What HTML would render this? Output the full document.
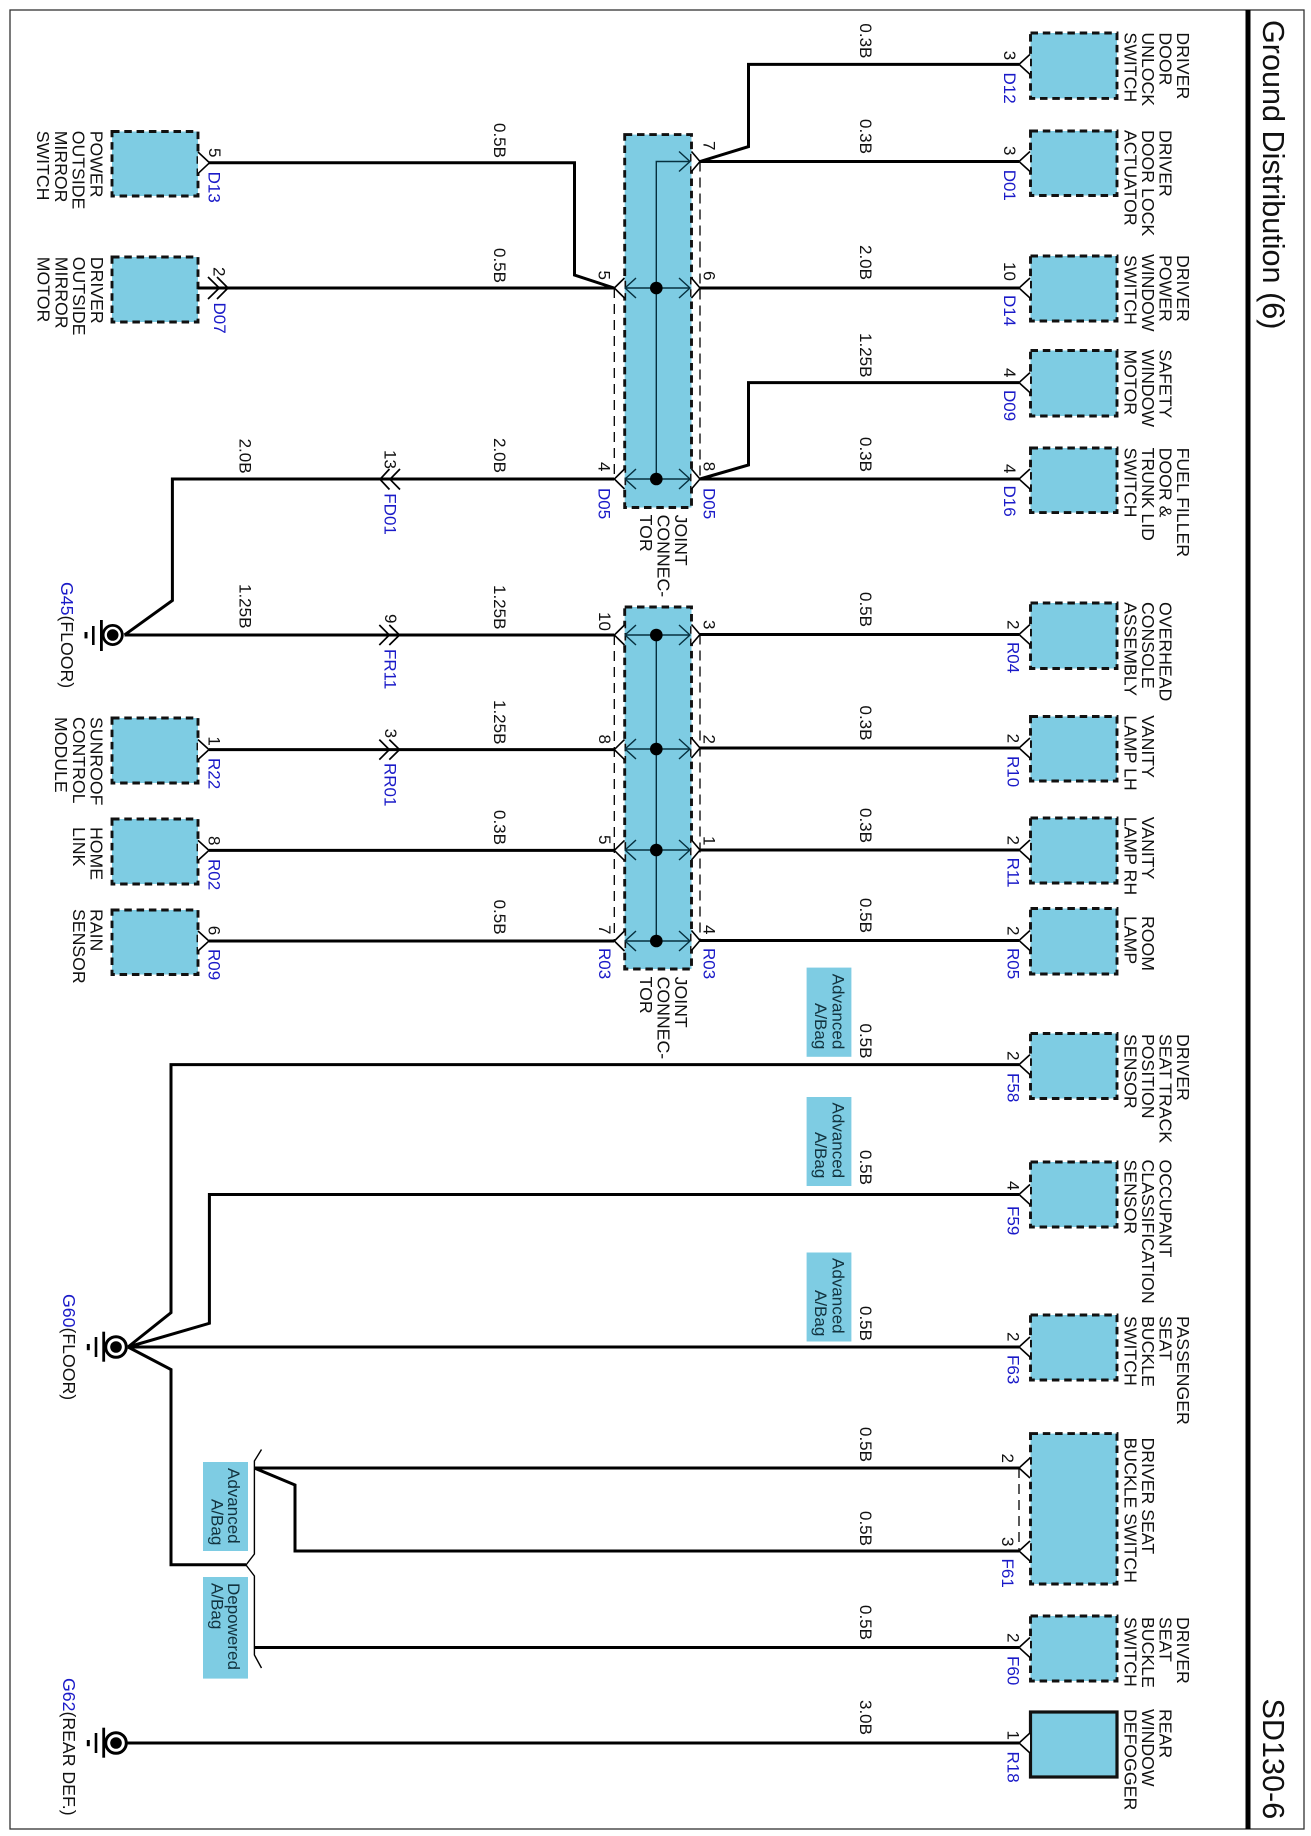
<!DOCTYPE html>
<html><head><meta charset="utf-8"><title>Ground Distribution (6)</title>
<style>
html,body{margin:0;padding:0;background:#fff}
svg{display:block}
text{font-family:"Liberation Sans",sans-serif;font-size:17.7px;fill:#111}
.w{font-size:17px}
.p{font-size:17px}
.b{font-size:17px;fill:#1a1ac8}
.g{fill:#1a1ac8}
.a{font-size:17px;fill:#12333f}
.h{font-size:30.6px}
.bx{fill:#7ecce3;stroke:#111;stroke-width:2.9;stroke-dasharray:7.5 4.8}
.tag{fill:#7ecce3}
.wr{fill:none;stroke:#000;stroke-width:3;stroke-linejoin:miter}
.ch{fill:#fff;stroke:#000;stroke-width:1.6}
.cn{fill:none;stroke:#000;stroke-width:1.7}
.in{fill:none;stroke:#06303f;stroke-width:1.4}
.ds{fill:none;stroke:#000;stroke-width:1.3;stroke-dasharray:10 6}
</style></head><body>
<svg width="1311" height="1836" viewBox="0 0 1311 1836" xmlns="http://www.w3.org/2000/svg">
<rect x="0" y="0" width="1311" height="1836" fill="#fff"/>
<rect x="10" y="10" width="1294" height="1819" fill="none" stroke="#333" stroke-width="1.3"/>
<rect x="1245.5" y="10" width="5" height="1819" fill="#000"/>

<!-- tags -->
<rect class="tag" x="806.6" y="967.6" width="44.8" height="89.2"/>
<rect class="tag" x="806.6" y="1097" width="44.8" height="89"/>
<rect class="tag" x="806.6" y="1252.5" width="44.8" height="89"/>
<rect class="tag" x="203" y="1462" width="45" height="89"/>
<rect class="tag" x="203" y="1577" width="45" height="101.6"/>

<!-- dashed inter-pin lines -->
<path class="ds" d="M614.3 288V479M700 161.5V479M614.3 635V941M700 634.5V940.5M1019 1468V1551"/>

<!-- joint connectors -->
<rect class="bx" x="624.7" y="134.6" width="66.8" height="372.9"/>
<rect class="bx" x="624.7" y="607" width="66.8" height="362"/>
<path class="in" d="M690 161.5H656.3V479M624 288H690M624 479H690M656.3 635V941M624 635H690M624 749H690M624 850H690M624 941H690"/>
<path class="in" d="M679 151.5L690 161.5L679 171.5M679 278L690 288L679 298M679 469L690 479L679 489M636 278L625 288L636 298M636 469L625 479L636 489M679 625L690 635L679 645M679 739L690 749L679 759M679 840L690 850L679 860M679 931L690 941L679 951M636 625L625 635L636 645M636 739L625 749L636 759M636 840L625 850L636 860M636 931L625 941L636 951"/>
<g fill="#000"><circle cx="656.3" cy="288" r="6.3"/><circle cx="656.3" cy="479" r="6.3"/><circle cx="656.3" cy="635" r="6.3"/><circle cx="656.3" cy="749" r="6.3"/><circle cx="656.3" cy="850" r="6.3"/><circle cx="656.3" cy="941" r="6.3"/></g>

<!-- boxes right -->
<rect class="bx" x="1030.5" y="33" width="86.5" height="65.4"/>
<rect class="bx" x="1030.5" y="131" width="86.5" height="64.5"/>
<rect class="bx" x="1030.5" y="256" width="86.5" height="65"/>
<rect class="bx" x="1030.5" y="350.5" width="86.5" height="65.5"/>
<rect class="bx" x="1030.5" y="448" width="86.5" height="64.6"/>
<rect class="bx" x="1030.5" y="603" width="86.5" height="65.5"/>
<rect class="bx" x="1030.5" y="716.5" width="86.5" height="64.5"/>
<rect class="bx" x="1030.5" y="818" width="86.5" height="65"/>
<rect class="bx" x="1030.5" y="908.5" width="86.5" height="65.5"/>
<rect class="bx" x="1030.5" y="1033.5" width="86.5" height="65"/>
<rect class="bx" x="1030.5" y="1162" width="86.5" height="65"/>
<rect class="bx" x="1030.5" y="1315" width="86.5" height="65"/>
<rect class="bx" x="1030.5" y="1433.6" width="86.5" height="150.4"/>
<rect class="bx" x="1030.5" y="1616" width="86.5" height="65"/>
<rect x="1030.5" y="1712" width="86.5" height="65" fill="#7ecce3" stroke="#111" stroke-width="3.2"/>
<!-- boxes left -->
<rect class="bx" x="112" y="131.5" width="86" height="64.5"/>
<rect class="bx" x="112" y="257" width="86" height="65"/>
<rect class="bx" x="112" y="718" width="86" height="65"/>
<rect class="bx" x="112" y="819" width="86" height="65"/>
<rect class="bx" x="112" y="910" width="86" height="64.5"/>

<!-- wires -->
<g class="wr">
<path class="wr" d="M209 162.8H574.5V275L614 288"/>
<path class="wr" d="M198 288H614"/>
<path class="wr" d="M614 479H172.4V600.5L124.5 635"/>
<path class="wr" d="M124.5 635H614"/>
<path class="wr" d="M209 749.6H614"/>
<path class="wr" d="M209 850.4H614"/>
<path class="wr" d="M209 941H614"/>
<path class="wr" d="M1019 64.4H748.5V146.6L700 161.5"/>
<path class="wr" d="M700 161.5H1019"/>
<path class="wr" d="M700 288H1019"/>
<path class="wr" d="M1019 382.6H748.5V465L700 479"/>
<path class="wr" d="M700 479H1019"/>
<path class="wr" d="M700 634.5H1019"/>
<path class="wr" d="M700 748H1019"/>
<path class="wr" d="M700 850H1019"/>
<path class="wr" d="M700 940.5H1019"/>
<path class="wr" d="M1019 1064.6H171V1312.7L128 1347"/>
<path class="wr" d="M1019 1194.5H209.4V1323.3L128 1347"/>
<path class="wr" d="M128 1347H1019"/>
<path class="wr" d="M128 1347L171 1369.5V1564.7H246"/>
<path class="wr" d="M254.4 1468H1019"/>
<path class="wr" d="M254.4 1468L295 1485V1551H1019"/>
<path class="wr" d="M254.4 1647.5H1019"/>
<path class="wr" d="M126 1743H1019"/>
</g>
<path fill="none" stroke="#000" stroke-width="1.4" d="M261.5 1449.5L254.4 1461V1554L246 1565L254.4 1576V1655L261.5 1668"/>

<!-- terminal chevrons right -->
<g class="ch">
<path class="ch" d="M1030 54.4L1019 64.4L1030 74.4"/>
<path class="ch" d="M1030 151.5L1019 161.5L1030 171.5"/>
<path class="ch" d="M1030 278L1019 288L1030 298"/>
<path class="ch" d="M1030 372.6L1019 382.6L1030 392.6"/>
<path class="ch" d="M1030 469L1019 479L1030 489"/>
<path class="ch" d="M1030 624.5L1019 634.5L1030 644.5"/>
<path class="ch" d="M1030 738L1019 748L1030 758"/>
<path class="ch" d="M1030 840L1019 850L1030 860"/>
<path class="ch" d="M1030 930.5L1019 940.5L1030 950.5"/>
<path class="ch" d="M1030 1054.6L1019 1064.6L1030 1074.6"/>
<path class="ch" d="M1030 1184.5L1019 1194.5L1030 1204.5"/>
<path class="ch" d="M1030 1337L1019 1347L1030 1357"/>
<path class="ch" d="M1030 1458L1019 1468L1030 1478"/>
<path class="ch" d="M1030 1541L1019 1551L1030 1561"/>
<path class="ch" d="M1030 1637.5L1019 1647.5L1030 1657.5"/>
<path class="ch" d="M1030 1733L1019 1743L1030 1753"/>
<!-- left boxes -->
<path class="ch" d="M198 152L209.5 162.8L198 173.6"/>
<path class="ch" d="M198 739.6L209 749.6L198 759.6"/>
<path class="ch" d="M198 840.4L209 850.4L198 860.4"/>
<path class="ch" d="M198 931L209 941L198 951"/>
<!-- joint outer -->
<path class="ch" d="M691.5 151.5L700 161.5L691.5 171.5"/>
<path class="ch" d="M691.5 278L700 288L691.5 298"/>
<path class="ch" d="M691.5 469L700 479L691.5 489"/>
<path class="ch" d="M691.5 624.5L700 634.5L691.5 644.5"/>
<path class="ch" d="M691.5 738L700 748L691.5 758"/>
<path class="ch" d="M691.5 840L700 850L691.5 860"/>
<path class="ch" d="M691.5 930.5L700 940.5L691.5 950.5"/>
<path class="ch" d="M624.5 278L614.3 288L624.5 298"/>
<path class="ch" d="M624.5 469L614.3 479L624.5 489"/>
<path class="ch" d="M624.5 625L614.3 635L624.5 645"/>
<path class="ch" d="M624.5 739.6L614.3 749.6L624.5 759.6"/>
<path class="ch" d="M624.5 840.4L614.3 850.4L624.5 860.4"/>
<path class="ch" d="M624.5 931L614.3 941L624.5 951"/>
</g>
<!-- inline double chevrons -->
<path class="cn" d="M208 277L219.3 288L208 299M217 277L228 288L217 299"/>
<path class="cn" d="M389.5 469L380 479.3L389.5 489.5M400 469L390 479.3L400 489.5"/>
<path class="cn" d="M379.3 625L389.3 635L379.3 645M389.3 625L399.5 635L389.3 645"/>
<path class="cn" d="M379.3 739.6L389.3 749.6L379.3 759.6M389.3 739.6L399.5 749.6L389.3 759.6"/>

<!-- grounds -->
<g>
<circle cx="112.7" cy="635" r="9.6" fill="#fff" stroke="#000" stroke-width="2.8"/><circle cx="112.7" cy="635" r="5.8" fill="#000"/>
<rect x="100" y="620" width="2.8" height="31" fill="#000"/><rect x="92" y="626" width="2.6" height="19" fill="#000"/><rect x="84.5" y="632" width="3" height="6.4" fill="#000"/>
</g>
<g>
<circle cx="116" cy="1347" r="10.3" fill="#fff" stroke="#000" stroke-width="3"/><circle cx="116" cy="1347" r="5.8" fill="#000"/>
<rect x="102.3" y="1331.7" width="2.8" height="30" fill="#000"/><rect x="94.7" y="1337" width="2.6" height="20" fill="#000"/><rect x="86.8" y="1344" width="3" height="6.2" fill="#000"/>
</g>
<g>
<circle cx="116" cy="1743" r="10.3" fill="#fff" stroke="#000" stroke-width="3"/><circle cx="116" cy="1743" r="5.8" fill="#000"/>
<rect x="102.3" y="1727.7" width="2.8" height="30" fill="#000"/><rect x="94.7" y="1733" width="2.6" height="20" fill="#000"/><rect x="86.8" y="1740" width="3" height="6.2" fill="#000"/>
</g>

<!-- all text rotated 90deg: x=page y, y=-page x -->
<g transform="rotate(90)">
<text class="h" x="20" y="-1263">Ground Distribution (6)</text>
<text class="h" x="1698.5" y="-1263">SD130-6</text>

<!-- right labels -->
<text x="32.4" y="-1177">DRIVER</text><text x="32.4" y="-1159.5">DOOR</text><text x="32.4" y="-1142">UNLOCK</text><text x="32.4" y="-1124.5">SWITCH</text>
<text x="130" y="-1159.5">DRIVER</text><text x="130" y="-1142">DOOR LOCK</text><text x="130" y="-1124.5">ACTUATOR</text>
<text x="255" y="-1177">DRIVER</text><text x="255" y="-1159.5">POWER</text><text x="254" y="-1142">WINDOW</text><text x="255" y="-1124.5">SWITCH</text>
<text x="349.5" y="-1159.5">SAFETY</text><text x="349.5" y="-1142">WINDOW</text><text x="349.5" y="-1124.5">MOTOR</text>
<text x="447.6" y="-1177">FUEL FILLER</text><text x="447.6" y="-1159.5">DOOR &amp;</text><text x="447.6" y="-1142">TRUNK LID</text><text x="447.6" y="-1124.5">SWITCH</text>
<text x="602" y="-1159.5">OVERHEAD</text><text x="602" y="-1142">CONSOLE</text><text x="602" y="-1124.5">ASSEMBLY</text>
<text x="715.3" y="-1142">VANITY</text><text x="715.3" y="-1124.5">LAMP LH</text>
<text x="816.8" y="-1142">VANITY</text><text x="816.8" y="-1124.5">LAMP RH</text>
<text x="916" y="-1142">ROOM</text><text x="916" y="-1124.5">LAMP</text>
<text x="1034" y="-1177">DRIVER</text><text x="1034" y="-1159.5">SEAT TRACK</text><text x="1034" y="-1142">POSITION</text><text x="1034" y="-1124.5">SENSOR</text>
<text x="1159.5" y="-1159.5">OCCUPANT</text><text x="1159.5" y="-1142">CLASSIFICATION</text><text x="1159.5" y="-1124.5">SENSOR</text>
<text x="1316" y="-1177">PASSENGER</text><text x="1316" y="-1159.5">SEAT</text><text x="1316" y="-1142">BUCKLE</text><text x="1316" y="-1124.5">SWITCH</text>
<text x="1437.5" y="-1142">DRIVER SEAT</text><text x="1437.5" y="-1124.5">BUCKLE SWITCH</text>
<text x="1617" y="-1177">DRIVER</text><text x="1617" y="-1159.5">SEAT</text><text x="1617" y="-1142">BUCKLE</text><text x="1617" y="-1124.5">SWITCH</text>
<text x="1709" y="-1159.5">REAR</text><text x="1709" y="-1142">WINDOW</text><text x="1709" y="-1124.5">DEFOGGER</text>

<!-- left labels -->
<text x="130.7" y="-90.5">POWER</text><text x="130.7" y="-72.6">OUTSIDE</text><text x="130.7" y="-54.8">MIRROR</text><text x="130.7" y="-37">SWITCH</text>
<text x="256.8" y="-91">DRIVER</text><text x="256.8" y="-73">OUTSIDE</text><text x="256.8" y="-55.4">MIRROR</text><text x="256.8" y="-37.6">MOTOR</text>
<text x="717" y="-90.5">SUNROOF</text><text x="717" y="-73">CONTROL</text><text x="717" y="-55">MODULE</text>
<text x="827" y="-90.5">HOME</text><text x="827" y="-73">LINK</text>
<text x="909" y="-90.5">RAIN</text><text x="909" y="-73">SENSOR</text>

<!-- joint labels -->
<text x="514.6" y="-675">JOINT</text><text x="514.6" y="-657.5">CONNEC-</text><text x="514.6" y="-640">TOR</text>
<text x="976.6" y="-675">JOINT</text><text x="976.6" y="-657.5">CONNEC-</text><text x="976.6" y="-640">TOR</text>

<!-- wire specs -->
<text class="w" x="123" y="-494">0.5B</text>
<text class="w" x="248" y="-494">0.5B</text>
<text class="w" x="438" y="-494">2.0B</text>
<text class="w" x="438.6" y="-239.3">2.0B</text>
<text class="w" x="584" y="-239.3">1.25B</text>
<text class="w" x="585" y="-494">1.25B</text>
<text class="w" x="700" y="-494">1.25B</text>
<text class="w" x="810" y="-494">0.3B</text>
<text class="w" x="899.6" y="-494">0.5B</text>
<text class="w" x="23.4" y="-860">0.3B</text>
<text class="w" x="119" y="-860">0.3B</text>
<text class="w" x="245" y="-860">2.0B</text>
<text class="w" x="333" y="-860">1.25B</text>
<text class="w" x="437" y="-860">0.3B</text>
<text class="w" x="592" y="-860">0.5B</text>
<text class="w" x="705.5" y="-860">0.3B</text>
<text class="w" x="808" y="-860">0.3B</text>
<text class="w" x="898" y="-860">0.5B</text>
<text class="w" x="1023.5" y="-860">0.5B</text>
<text class="w" x="1150" y="-860">0.5B</text>
<text class="w" x="1306" y="-860">0.5B</text>
<text class="w" x="1427" y="-860">0.5B</text>
<text class="w" x="1511" y="-860">0.5B</text>
<text class="w" x="1605" y="-860">0.5B</text>
<text class="w" x="1700" y="-860">3.0B</text>

<!-- right pins + ids -->
<text class="p" x="50.7" y="-1004">3</text><text class="b" x="72.5" y="-1004">D12</text>
<text class="p" x="146" y="-1004">3</text><text class="b" x="169.7" y="-1004">D01</text>
<text class="p" x="262" y="-1004">10</text><text class="b" x="295" y="-1004">D14</text>
<text class="p" x="368" y="-1004">4</text><text class="b" x="390" y="-1004">D09</text>
<text class="p" x="464" y="-1004">4</text><text class="b" x="485.5" y="-1004">D16</text>
<text class="p" x="620" y="-1007.5">2</text><text class="b" x="642" y="-1007.5">R04</text>
<text class="p" x="733.6" y="-1007.5">2</text><text class="b" x="756" y="-1007.5">R10</text>
<text class="p" x="835.5" y="-1007.5">2</text><text class="b" x="857.6" y="-1007.5">R11</text>
<text class="p" x="926" y="-1007.5">2</text><text class="b" x="948" y="-1007.5">R05</text>
<text class="p" x="1051" y="-1007.5">2</text><text class="b" x="1073" y="-1007.5">F58</text>
<text class="p" x="1181" y="-1007.5">4</text><text class="b" x="1206" y="-1007.5">F59</text>
<text class="p" x="1332" y="-1007.5">2</text><text class="b" x="1355" y="-1007.5">F63</text>
<text class="p" x="1453.5" y="-1002">2</text>
<text class="p" x="1537" y="-1002">3</text><text class="b" x="1558.5" y="-1002">F61</text>
<text class="p" x="1633" y="-1007.5">2</text><text class="b" x="1656" y="-1007.5">F60</text>
<text class="p" x="1730.5" y="-1007.5">1</text><text class="b" x="1751.5" y="-1007.5">R18</text>

<!-- left pins + ids -->
<text class="p" x="148" y="-209">5</text><text class="b" x="171.6" y="-208.4">D13</text>
<text class="p" x="267" y="-213.5">2</text><text class="b" x="302.5" y="-214.2">D07</text>
<text class="p" x="270.5" y="-598.3">5</text>
<text class="p" x="462" y="-598.3">4</text><text class="b" x="488" y="-598.3">D05</text>
<text class="p" x="450" y="-384.3">13</text><text class="b" x="493.3" y="-384.3">FD01</text>
<text class="p" x="612" y="-599">10</text>
<text class="p" x="614" y="-385">9</text><text class="b" x="649" y="-384.3">FR11</text>
<text class="p" x="736.4" y="-208.4">1</text><text class="b" x="758" y="-208.4">R22</text>
<text class="p" x="728.6" y="-385">3</text><text class="b" x="763" y="-384.3">RR01</text>
<text class="p" x="734.5" y="-599">8</text>
<text class="p" x="835" y="-599">5</text>
<text class="p" x="836" y="-208.4">8</text><text class="b" x="859" y="-208.4">R02</text>
<text class="p" x="925.7" y="-208.4">6</text><text class="b" x="949" y="-208.4">R09</text>
<text class="p" x="925" y="-599">7</text><text class="b" x="948" y="-599">R03</text>

<!-- joint right pins -->
<text class="p" x="141" y="-703.7">7</text>
<text class="p" x="271" y="-703.7">6</text>
<text class="p" x="461.7" y="-703.7">8</text><text class="b" x="488" y="-703.7">D05</text>
<text class="p" x="620" y="-703.7">3</text>
<text class="p" x="734.5" y="-703.7">2</text>
<text class="p" x="836" y="-703.7">1</text>
<text class="p" x="925" y="-703.7">4</text><text class="b" x="948" y="-703.7">R03</text>

<!-- ground labels -->
<text x="582" y="-61"><tspan class="g">G45</tspan>(FLOOR)</text>
<text x="1294" y="-63"><tspan class="g">G60</tspan>(FLOOR)</text>
<text x="1678" y="-63"><tspan class="g">G62</tspan>(REAR DEF.)</text>

<!-- tag text -->
<text class="a" x="973.7" y="-832.6">Advanced</text><text class="a" x="1003" y="-815">A/Bag</text>
<text class="a" x="1102.5" y="-832.6">Advanced</text><text class="a" x="1132" y="-815">A/Bag</text>
<text class="a" x="1258" y="-832.6">Advanced</text><text class="a" x="1290" y="-815">A/Bag</text>
<text class="a" x="1468" y="-228">Advanced</text><text class="a" x="1499" y="-211.3">A/Bag</text>
<text class="a" x="1583" y="-228">Depowered</text><text class="a" x="1583" y="-211.3">A/Bag</text>
</g>
</svg>
</body></html>
